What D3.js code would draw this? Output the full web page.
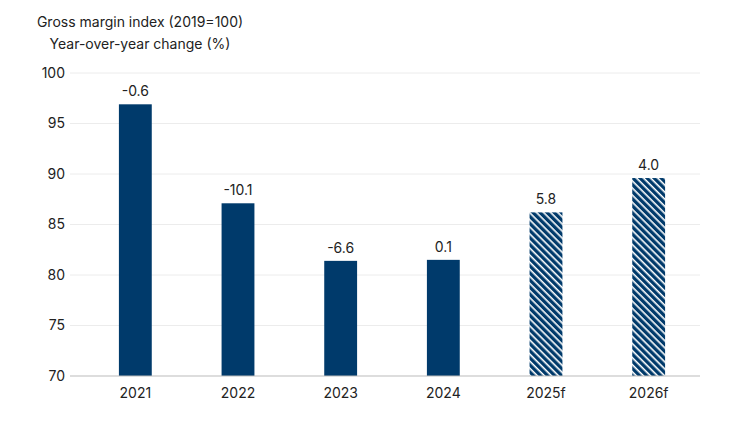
<!DOCTYPE html>
<html>
<head>
<meta charset="utf-8">
<script src="https://cdn.jsdelivr.net/npm/d3@7"></script>
<style>
  body { margin: 0; background: #fff; }
  text { font-family: Inter, "Noto Sans", sans-serif; fill: #222; }
</style>
</head>
<body>
<div id="chart"></div>
<script>
const categories = ['2021', '2022', '2023', '2024', '2025f', '2026f']
const values = [96.9, 87.1, 81.4, 81.5, 86.2, 89.6]
const changes = ['-0.6', '-10.1', '-6.6', '0.1', '5.8', '4.0']
const forecast = [false, false, false, false, true, true]
const yTicks = [70, 75, 80, 85, 90, 95, 100]

const width = 750
const height = 422
const navy = '#003a6b'

const svg = d3.select('#chart')
  .append('svg')
  .attr('width', width)
  .attr('height', height)

const pattern = svg.append('defs')
  .append('pattern')
  .attr('id', 'hatch')
  .attr('patternUnits', 'userSpaceOnUse')
  .attr('width', 5)
  .attr('height', 5)
  .attr('patternTransform', 'rotate(45)')
pattern.append('rect').attr('width', 5).attr('height', 5).attr('fill', navy)
pattern.append('rect').attr('width', 5).attr('height', 1.6).attr('fill', '#fff')

const x = d3.scaleBand()
  .domain(categories)
  .range([84, 700])
  .paddingInner(0.68)
  .paddingOuter(0.34)

const y = d3.scaleLinear()
  .domain([70, 100])
  .range([376, 73])

// gridlines
svg.append('g')
  .selectAll('line')
  .data(yTicks.slice(1))
  .join('line')
  .attr('x1', 70)
  .attr('x2', 700)
  .attr('y1', d => y(d))
  .attr('y2', d => y(d))
  .attr('stroke', '#ececec')

const yAxis = svg.append('g')
  .attr('transform', 'translate(70,0)')
  .call(d3.axisLeft(y).tickValues(yTicks).tickSize(0).tickPadding(5))
yAxis.select('.domain').remove()
yAxis.selectAll('text').attr('font-size', 14).style('font-family', 'Inter, sans-serif').attr('fill', '#222')

svg.append('g')
  .selectAll('rect')
  .data(categories)
  .join('rect')
  .attr('x', d => x(d))
  .attr('width', x.bandwidth())
  .attr('y', (d, i) => y(values[i]))
  .attr('height', (d, i) => y(70) - y(values[i]))
  .attr('fill', (d, i) => forecast[i] ? 'url(#hatch)' : navy)

// baseline
svg.append('line')
  .attr('x1', 70).attr('x2', 700)
  .attr('y1', y(70)).attr('y2', y(70))
  .attr('stroke', '#bbb')

const xAxis = svg.append('g')
  .attr('transform', `translate(0,${y(70)})`)
  .call(d3.axisBottom(x).tickSize(0).tickPadding(12))
xAxis.select('.domain').remove()
xAxis.selectAll('text').attr('font-size', 14).style('font-family', 'Inter, sans-serif').attr('fill', '#222')

svg.append('g')
  .selectAll('text')
  .data(categories)
  .join('text')
  .attr('x', d => x(d) + x.bandwidth() / 2)
  .attr('y', (d, i) => y(values[i]) - 8)
  .attr('text-anchor', 'middle')
  .attr('font-size', 14)
  .text((d, i) => changes[i])

svg.append('text').attr('x', 140).attr('y', 27).attr('text-anchor', 'middle')
  .attr('font-size', 14).text('Gross margin index (2019=100)')
svg.append('text').attr('x', 140).attr('y', 49).attr('text-anchor', 'middle')
  .attr('font-size', 14).text('Year-over-year change (%)')
</script>
</body>
</html>
